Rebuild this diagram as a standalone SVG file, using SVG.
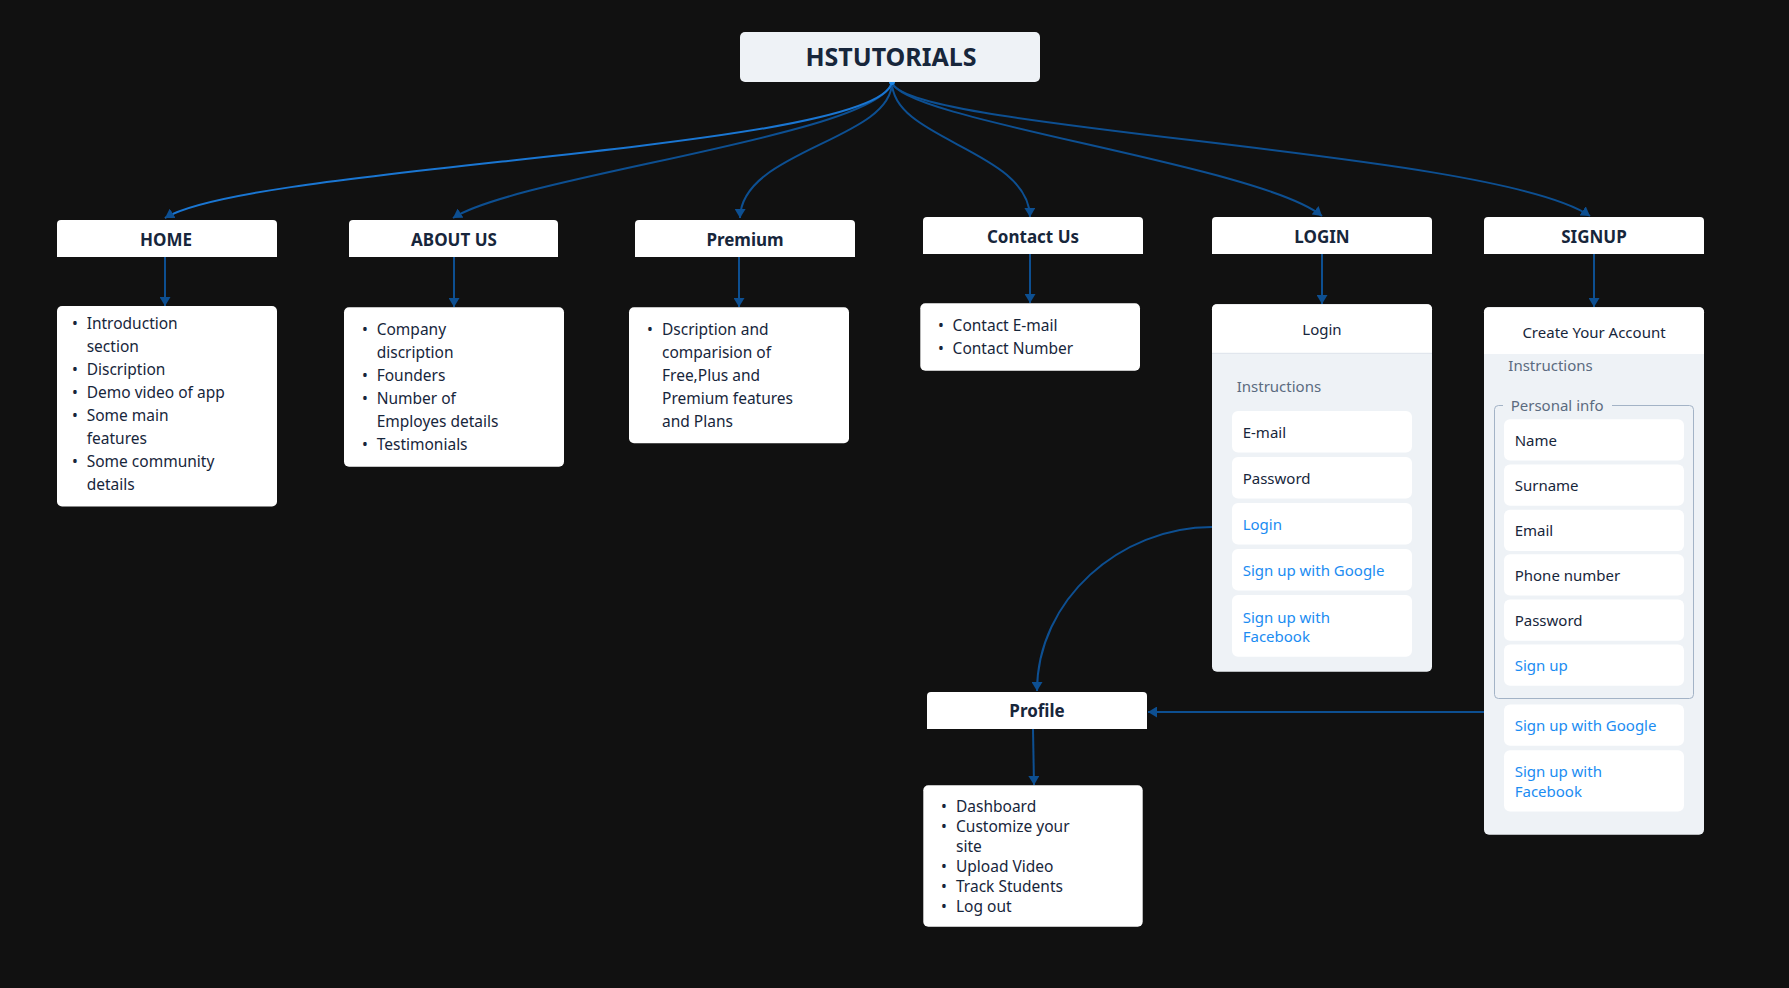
<svg xmlns="http://www.w3.org/2000/svg" width="1789" height="988" viewBox="0 0 1789 988">
<defs>
<style>
.bg{fill:#111111}
.hdr{fill:#ffffff}
.card{fill:#ffffff}
.panel{fill:#eef2f6}
.field{fill:#ffffff}
.t{font-family:"Noto Sans","Open Sans","Liberation Sans",sans-serif;fill:#17263b}
.title{font-size:25px;font-weight:700;text-anchor:middle}
.h{font-size:17px;font-weight:700;text-anchor:middle}
.b{font-size:15.5px}
.f{font-size:15px}
.c{text-anchor:middle}
.muted{fill:#5b6b80}
.link{fill:#1b8cf2}
.edge{fill:none;stroke:#0d4f91;stroke-width:2}
.edge-hi{fill:none;stroke:#1a76d2;stroke-width:2}
</style>
<marker id="arr" viewBox="0 0 9 11" refX="9" refY="5.5" markerWidth="9" markerHeight="11" markerUnits="userSpaceOnUse" orient="auto">
<path d="M0,0 L9,5.5 L0,11 Z" fill="#0d4f91"/>
</marker>
</defs>
<rect class="bg" x="0" y="0" width="1789" height="988"/>

<g id="connectors">
<path class="edge" d="M892,82 C880,135 520,175 453,218" marker-end="url(#arr)"/>
<path class="edge" d="M892,82 C892,140 741,150 740,218" marker-end="url(#arr)"/>
<path class="edge" d="M892,82 C892,140 1029,150 1030,217" marker-end="url(#arr)"/>
<path class="edge" d="M892,82 C900,120 1260,165 1322,216" marker-end="url(#arr)"/>
<path class="edge" d="M892,82 C900,130 1495,150 1590,216" marker-end="url(#arr)"/>
<path class="edge-hi" d="M892,82 C880,150 250,165 165,218" marker-end="url(#arr)"/>
<circle cx="892" cy="82" r="3" fill="#1e88e5"/>
<path class="edge" d="M165,257 V306" marker-end="url(#arr)"/>
<path class="edge" d="M454,257 V307" marker-end="url(#arr)"/>
<path class="edge" d="M739,257 V307" marker-end="url(#arr)"/>
<path class="edge" d="M1030,254 V303" marker-end="url(#arr)"/>
<path class="edge" d="M1322,254 V304" marker-end="url(#arr)"/>
<path class="edge" d="M1594,254 V307" marker-end="url(#arr)"/>
<path class="edge" d="M1033,729 L1034,785" marker-end="url(#arr)"/>
<path class="edge" d="M1212,527 C1120,527 1037,600 1037,691" marker-end="url(#arr)"/>
<path class="edge" d="M1484,712 H1148" marker-end="url(#arr)"/>
</g>

<g id="hstutorials">
<rect x="740" y="32" width="300" height="50" rx="5" fill="#eef2f6"/>
<text class="t title" x="891" y="66" fill="#13233a">HSTUTORIALS</text>
</g>

<g id="home">
<path class="hdr" d="M57,257 V224 Q57,220 61,220 H273 Q277,220 277,224 V257 Z"/>
<text class="t h" x="166" y="246">HOME</text>
</g>
<g id="home-content">
<rect class="card" x="57" y="306" width="220" height="200.5" rx="5"/>
<text class="t b">
<tspan x="72" y="329.3">•</tspan><tspan x="86.7" y="329.3">Introduction</tspan>
<tspan x="86.7" y="352.3">section</tspan>
<tspan x="72" y="375.3">•</tspan><tspan x="86.7" y="375.3">Discription</tspan>
<tspan x="72" y="398.3">•</tspan><tspan x="86.7" y="398.3">Demo video of app</tspan>
<tspan x="72" y="421.3">•</tspan><tspan x="86.7" y="421.3">Some main</tspan>
<tspan x="86.7" y="444.3">features</tspan>
<tspan x="72" y="467.3">•</tspan><tspan x="86.7" y="467.3">Some community</tspan>
<tspan x="86.7" y="490.3">details</tspan>
</text>
</g>

<g id="about">
<path class="hdr" d="M349,257 V224 Q349,220 353,220 H554 Q558,220 558,224 V257 Z"/>
<text class="t h" x="454" y="246">ABOUT US</text>
</g>
<g id="about-content">
<rect class="card" x="344" y="307.3" width="220" height="159.4" rx="5"/>
<text class="t b">
<tspan x="362" y="335">•</tspan><tspan x="376.7" y="335">Company</tspan>
<tspan x="376.7" y="358">discription</tspan>
<tspan x="362" y="381">•</tspan><tspan x="376.7" y="381">Founders</tspan>
<tspan x="362" y="404">•</tspan><tspan x="376.7" y="404">Number of</tspan>
<tspan x="376.7" y="427">Employes details</tspan>
<tspan x="362" y="450">•</tspan><tspan x="376.7" y="450">Testimonials</tspan>
</text>
</g>

<g id="premium">
<path class="hdr" d="M635,257 V224 Q635,220 639,220 H851 Q855,220 855,224 V257 Z"/>
<text class="t h" x="745" y="246">Premium</text>
</g>
<g id="premium-content">
<rect class="card" x="629" y="307.3" width="220" height="136" rx="5"/>
<text class="t b">
<tspan x="647" y="335">•</tspan><tspan x="662" y="335">Dscription and</tspan>
<tspan x="662" y="358">comparision of</tspan>
<tspan x="662" y="381">Free,Plus and</tspan>
<tspan x="662" y="404">Premium features</tspan>
<tspan x="662" y="427">and Plans</tspan>
</text>
</g>

<g id="contact">
<path class="hdr" d="M923,254 V221 Q923,217 927,217 H1139 Q1143,217 1143,221 V254 Z"/>
<text class="t h" x="1033" y="243.3">Contact Us</text>
</g>
<g id="contact-content">
<rect class="card" x="920.3" y="303.3" width="219.7" height="67.4" rx="5"/>
<text class="t b">
<tspan x="938" y="331">•</tspan><tspan x="952.6" y="331">Contact E-mail</tspan>
<tspan x="938" y="354">•</tspan><tspan x="952.6" y="354">Contact Number</tspan>
</text>
</g>

<g id="login">
<path class="hdr" d="M1212,254 V221 Q1212,217 1216,217 H1428 Q1432,217 1432,221 V254 Z"/>
<text class="t h" x="1322" y="242.7">LOGIN</text>
</g>
<g id="login-form">
<rect class="panel" x="1212" y="304.3" width="220" height="367.4" rx="5"/>
<path fill="#ffffff" d="M1212,353.3 V309.3 Q1212,304.3 1217,304.3 H1427 Q1432,304.3 1432,309.3 V353.3 Z"/>
<line x1="1212" y1="353.3" x2="1432" y2="353.3" stroke="#dde3ea" stroke-width="1"/>
<text class="t f c" x="1322" y="335">Login</text>
<text class="t f muted" x="1236.7" y="392.3">Instructions</text>
<rect class="field" x="1232" y="411" width="180" height="41.5" rx="6"/>
<rect class="field" x="1232" y="457" width="180" height="41.5" rx="6"/>
<rect class="field" x="1232" y="503" width="180" height="41.5" rx="6"/>
<rect class="field" x="1232" y="549" width="180" height="41.5" rx="6"/>
<rect class="field" x="1232" y="595" width="180" height="61.7" rx="6"/>
<text class="t f" x="1242.7" y="438.3">E-mail</text>
<text class="t f" x="1242.7" y="484.3">Password</text>
<text class="t f link" x="1242.7" y="530.3">Login</text>
<text class="t f link" x="1242.7" y="576.3">Sign up with Google</text>
<text class="t f link"><tspan x="1242.7" y="622.7">Sign up with</tspan><tspan x="1242.7" y="642.3">Facebook</tspan></text>
</g>

<g id="signup">
<path class="hdr" d="M1484,254 V221 Q1484,217 1488,217 H1700 Q1704,217 1704,221 V254 Z"/>
<text class="t h" x="1594" y="242.7">SIGNUP</text>
</g>
<g id="signup-form">
<rect class="panel" x="1484" y="307.3" width="220" height="527.4" rx="5"/>
<path fill="#ffffff" d="M1484,354 V312.3 Q1484,307.3 1489,307.3 H1699 Q1704,307.3 1704,312.3 V354 Z"/>
<text class="t f c" x="1594" y="337.6">Create Your Account</text>
<text class="t f muted" x="1508.3" y="371.4">Instructions</text>
<path fill="none" stroke="#a3b3c6" stroke-width="1" d="M1503,405.5 H1498.5 Q1494.5,405.5 1494.5,409.5 V694.5 Q1494.5,698.5 1498.5,698.5 H1689.5 Q1693.5,698.5 1693.5,694.5 V409.5 Q1693.5,405.5 1689.5,405.5 H1612"/>
<text class="t f muted" x="1510.7" y="411">Personal info</text>
<rect class="field" x="1504" y="419.2" width="180" height="41.2" rx="6"/>
<rect class="field" x="1504" y="464.5" width="180" height="41.2" rx="6"/>
<rect class="field" x="1504" y="509.8" width="180" height="41.2" rx="6"/>
<rect class="field" x="1504" y="554.3" width="180" height="41.2" rx="6"/>
<rect class="field" x="1504" y="599.6" width="180" height="41.2" rx="6"/>
<rect class="field" x="1504" y="644.5" width="180" height="41.2" rx="6"/>
<rect class="field" x="1504" y="704.5" width="180" height="41.2" rx="6"/>
<rect class="field" x="1504" y="750.2" width="180" height="61.2" rx="6"/>
<text class="t f" x="1514.7" y="446">Name</text>
<text class="t f" x="1514.7" y="491">Surname</text>
<text class="t f" x="1514.7" y="536">Email</text>
<text class="t f" x="1514.7" y="581">Phone number</text>
<text class="t f" x="1514.7" y="626">Password</text>
<text class="t f link" x="1514.7" y="671.4">Sign up</text>
<text class="t f link" x="1514.7" y="731.4">Sign up with Google</text>
<text class="t f link"><tspan x="1514.7" y="777.1">Sign up with</tspan><tspan x="1514.7" y="796.7">Facebook</tspan></text>
</g>

<g id="profile">
<path class="hdr" d="M927,729 V696 Q927,692 931,692 H1143 Q1147,692 1147,696 V729 Z"/>
<text class="t h" x="1037" y="717.3">Profile</text>
</g>
<g id="profile-content">
<rect class="card" x="923.3" y="785.3" width="219.4" height="141.4" rx="5"/>
<text class="t b">
<tspan x="941" y="811.7">•</tspan><tspan x="956" y="811.7">Dashboard</tspan>
<tspan x="941" y="831.7">•</tspan><tspan x="956" y="831.7">Customize your</tspan>
<tspan x="956" y="851.7">site</tspan>
<tspan x="941" y="871.7">•</tspan><tspan x="956" y="871.7">Upload Video</tspan>
<tspan x="941" y="891.7">•</tspan><tspan x="956" y="891.7">Track Students</tspan>
<tspan x="941" y="911.7">•</tspan><tspan x="956" y="911.7">Log out</tspan>
</text>
</g>
</svg>
